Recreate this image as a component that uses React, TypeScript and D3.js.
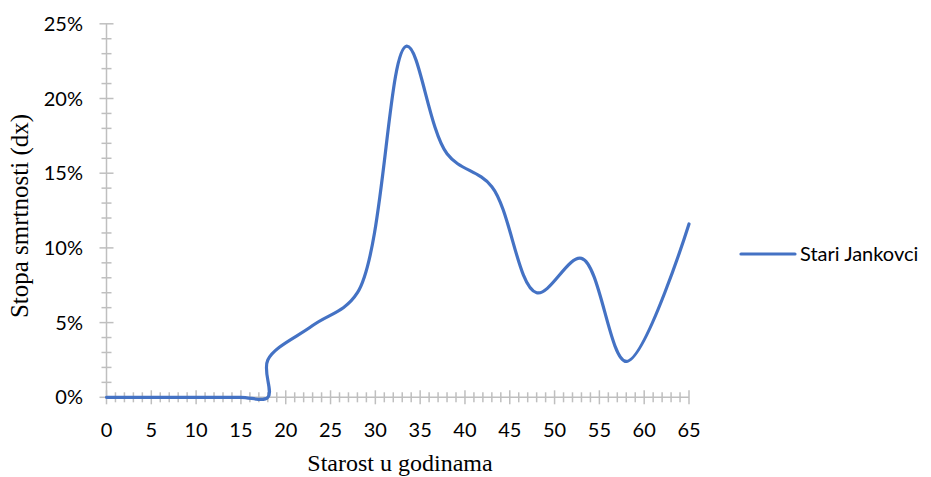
import React from 'react';
import * as d3 from 'd3';

// Stari Jankovci – stopa smrtnosti po dobi
const ages = [0, 5, 10, 15, 18, 18, 23, 28, 33.5, 38, 43, 48, 53, 58, 65];
const rates = [0, 0, 0, 0, 0, 0.025, 0.048, 0.07, 0.235, 0.163, 0.141, 0.07, 0.093, 0.024, 0.116];
const xTickLabels = [0, 5, 10, 15, 20, 25, 30, 35, 40, 45, 50, 55, 60, 65];
const yTickLabels = [0, 0.05, 0.1, 0.15, 0.2, 0.25];
const seriesName = 'Stari Jankovci';

const W = 931;
const H = 477;
const margin = { left: 106.5, right: 242, top: 23.8, bottom: 79.7 };
const axisColor = '#BFBFBF';
const lineColor = '#4472C4';
const sans = 'Lato, "Open Sans", sans-serif';
const serif = '"Liberation Serif", "Times New Roman", serif';

const App: React.FC = () => {
  const x = d3.scaleLinear().domain([0, 65]).range([margin.left, W - margin.right]);
  const y = d3.scaleLinear().domain([0, 0.25]).range([H - margin.bottom, margin.top]);

  const points: [number, number][] = ages.map((a, i) => [a, rates[i]]);
  const line = d3
    .line<[number, number]>()
    .x((d) => x(d[0]))
    .y((d) => y(d[1]))
    .curve(d3.curveCatmullRom.alpha(0.5));

  const xMinor = d3.range(0, 66, 1);
  const yMinor = d3.range(0, 26, 1).map((v) => v / 100);
  const y0 = y(0);
  const x0 = x(0);
  const fmt = d3.format('.0%');

  return (
    <svg width={W} height={H} style={{ position: 'absolute', left: 0, top: 0, background: '#fff' }}>
      {/* y axis */}
      <line x1={x0} x2={x0} y1={y(0.25)} y2={y0} stroke={axisColor} strokeWidth={1.5} />
      {yMinor.map((v, i) => {
        const major = i % 5 === 0;
        const h = major ? 7 : 5;
        return <line key={'ym' + i} x1={x0 - h} x2={x0 + h} y1={y(v)} y2={y(v)} stroke={axisColor} strokeWidth={1.5} />;
      })}
      {/* x axis */}
      <line x1={x0} x2={x(65)} y1={y0} y2={y0} stroke={axisColor} strokeWidth={1.5} />
      {xMinor.map((v) => {
        const major = v % 5 === 0;
        const h = major ? 7 : 5;
        return <line key={'xm' + v} x1={x(v)} x2={x(v)} y1={y0 - h} y2={y0 + h} stroke={axisColor} strokeWidth={1.5} />;
      })}

      {yTickLabels.map((v) => (
        <text key={'yl' + v} x={83} y={y(v)} dy="0.35em" textAnchor="end" fontFamily={sans} fontSize={20} fill="#000">
          {fmt(v)}
        </text>
      ))}
      {xTickLabels.map((v) => (
        <text key={'xl' + v} x={x(v)} y={429.5} dy="0.35em" textAnchor="middle" fontFamily={sans} fontSize={20} fill="#000">
          {v}
        </text>
      ))}

      <path d={line(points) ?? ''} fill="none" stroke={lineColor} strokeWidth={3.2} strokeLinecap="round" strokeLinejoin="round" />

      <text x={400} y={471} textAnchor="middle" fontFamily={serif} fontSize={24} fill="#000">
        Starost u godinama
      </text>
      <text
        transform={`translate(28, ${216}) rotate(-90)`}
        textAnchor="middle"
        fontFamily={serif}
        fontSize={25}
        fill="#000"
      >
        Stopa smrtnosti (dx)
      </text>

      {/* legend */}
      <line x1={741} x2={795} y1={254} y2={254} stroke={lineColor} strokeWidth={3.2} strokeLinecap="round" />
      <text x={800} y={254} dy="0.35em" fontFamily={sans} fontSize={20} fill="#000">
        {seriesName}
      </text>
    </svg>
  );
};

export default App;
